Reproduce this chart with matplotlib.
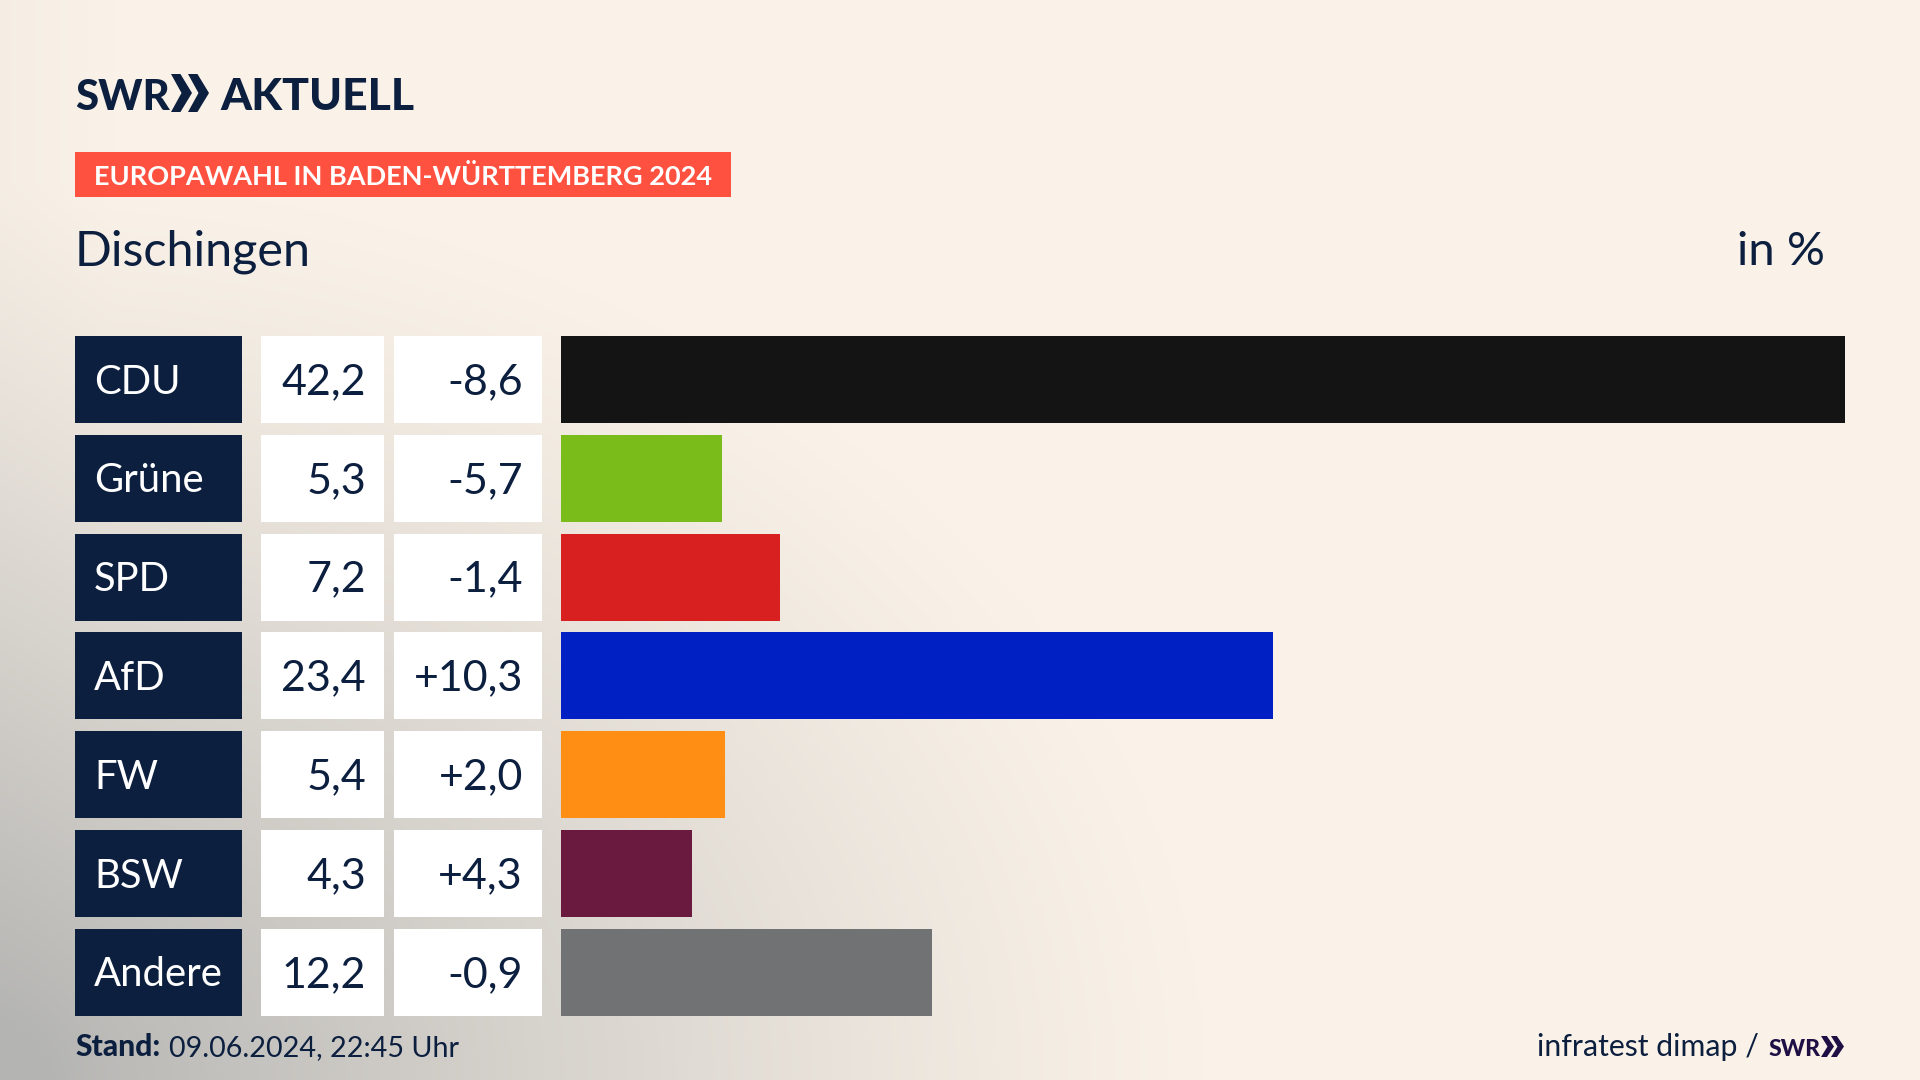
#!/usr/bin/env python3
"""Europawahl BW 2024, Dischingen: Balken mit Wert- und Differenzspalte."""

import matplotlib
matplotlib.use("Agg")
import matplotlib.pyplot as plt
import numpy as np
from matplotlib.patches import Polygon, Rectangle

parties = ["CDU", "Grüne", "SPD", "AfD", "FW", "BSW", "Andere"]
shares = [42.2, 5.3, 7.2, 23.4, 5.4, 4.3, 12.2]
changes = ["-8,6", "-5,7", "-1,4", "+10,3", "+2,0", "+4,3", "-0,9"]
colors = ["#141414", "#7abd1a", "#d7201f", "#0020c4", "#ff8f14", "#6a1a3e", "#717274"]

NAVY = "#0c1f3f"
CREAM = np.array([250, 242, 232]) / 255
GREY = np.array([180, 180, 178]) / 255
W, H = 1920, 1080
TOP, PITCH, ROW_H = 336, 98.83, 87


def px(size):
    # Schriftgroesse in Pixel -> Punkt bei dpi=100
    return size * 0.72


def chevrons(ax, x, y0, y1, w, step, color):
    mid = (y0 + y1) / 2
    for i in range(2):
        x0 = x + i * step
        ax.add_patch(Polygon([(x0, y0), (x0 + w * 0.45, y0), (x0 + w, mid), (x0 + w * 0.45, y1),
                              (x0, y1), (x0 + w * 0.5, mid)], color=color, lw=0))


plt.rcParams["font.family"] = ["Lato", "DejaVu Sans"]
fig = plt.figure(figsize=(19.2, 10.8), dpi=100)

# Hintergrund und alles ausser den Balken in Pixelkoordinaten
bg = fig.add_axes([0, 0, 1, 1])
bg.set_xlim(0, W)
bg.set_ylim(H, 0)
bg.axis("off")
yy, xx = np.mgrid[0:H:4, 0:W:4]
dist = np.sqrt((xx / 1200) ** 2 + ((H - yy) / 900) ** 2)
t = np.clip(1 - dist, 0, 1) ** 1.15 + 0.07 * np.clip(1 - xx / 110, 0, 1)
t = np.clip(t, 0, 1)[..., None]
bg.imshow(CREAM * (1 - t) + GREY * t, extent=(0, W, H, 0), aspect="auto", zorder=0, interpolation="bilinear")
bg.set_xlim(0, W)
bg.set_ylim(H, 0)

# Logo
bg.text(75, 110, "SWR", color=NAVY, fontsize=px(42), fontweight="black", va="baseline")
chevrons(bg, 171, 74, 112, 21, 17, NAVY)
bg.text(220, 110, "AKTUELL", color=NAVY, fontsize=px(44.5), fontweight="black", va="baseline")

# Kopf
bg.add_patch(Rectangle((75, 152), 656, 45, color="#ff5140", lw=0))
bg.text(94, 185, "EUROPAWAHL IN BADEN-WÜRTTEMBERG 2024", color="white", fontsize=px(27.1),
        fontweight="bold", va="baseline")
bg.text(75, 265, "Dischingen", color=NAVY, fontsize=px(48.5), va="baseline")
bg.text(1825, 265, "in %", color=NAVY, fontsize=px(47.5), va="baseline", ha="right")

# Tabellenspalten
for i, (party, share, change) in enumerate(zip(parties, shares, changes)):
    top = TOP + i * PITCH
    bg.add_patch(Rectangle((75, top), 167, ROW_H, color=NAVY, lw=0))
    bg.add_patch(Rectangle((261, top), 123, ROW_H, color="white", lw=0))
    bg.add_patch(Rectangle((394, top), 148, ROW_H, color="white", lw=0))
    bg.text(94, top + 57.5, party, color="white", fontsize=px(40), va="baseline")
    bg.text(366, top + 58, f"{share:.1f}".replace(".", ","), color=NAVY, fontsize=px(43),
            va="baseline", ha="right")
    bg.text(523, top + 58, change, color=NAVY, fontsize=px(43), va="baseline", ha="right")

# Balken
ax = fig.add_axes([561 / W, 1 - (TOP + 6 * PITCH + ROW_H) / H, (1845 - 561) / W, (6 * PITCH + ROW_H) / H])
ax.patch.set_alpha(0)
half = ROW_H / PITCH / 2
ax.barh(range(len(parties)), shares, height=ROW_H / PITCH, color=colors)
ax.set_xlim(0, 42.2)
ax.set_ylim(6 + half, -half)
ax.axis("off")

# Fuss
bg.text(75, 1056, "Stand:", color=NAVY, fontsize=px(30), fontweight="black", va="baseline")
bg.text(169, 1056, "09.06.2024, 22:45 Uhr", color=NAVY, fontsize=px(28.7), va="baseline")
bg.text(1759, 1056, "infratest dimap /", color=NAVY, fontsize=px(30.2), va="baseline", ha="right")
bg.text(1769, 1056, "SWR", color="#1e0f45", fontsize=px(23), fontweight="black", va="baseline")
chevrons(bg, 1821, 1036, 1057, 13, 10, "#1e0f45")

fig.savefig("out.png", dpi=100)
